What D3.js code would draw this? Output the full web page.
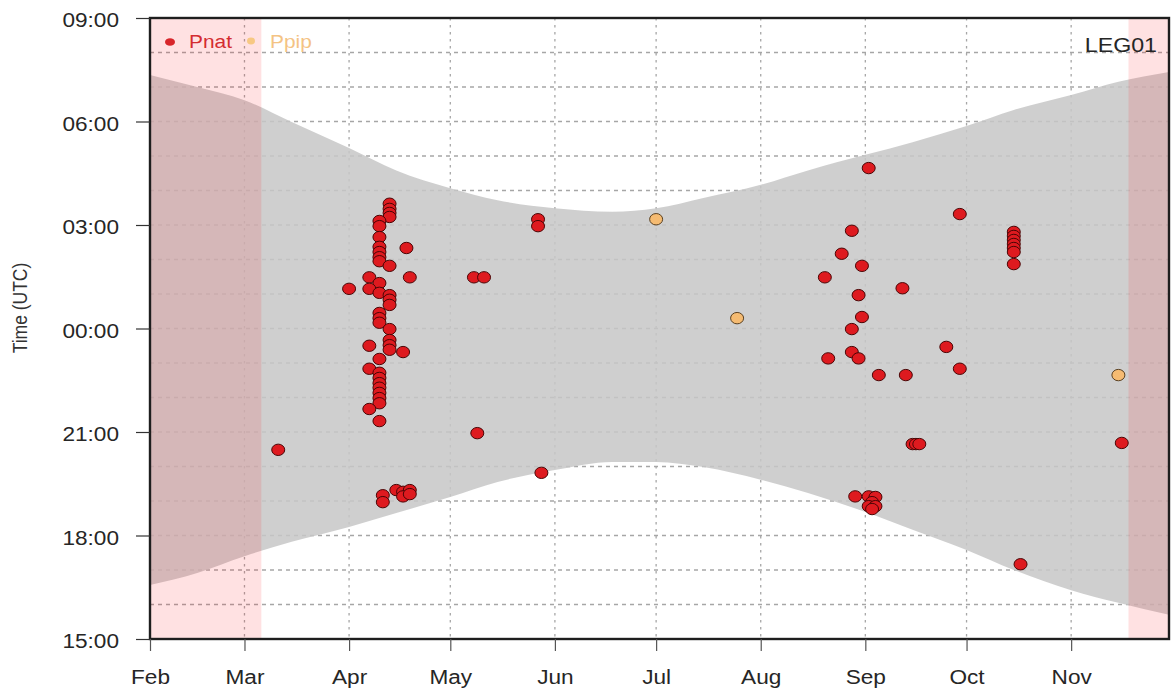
<!DOCTYPE html>
<html>
<head>
<meta charset="utf-8">
<script src="https://cdn.jsdelivr.net/npm/d3@7"></script>
<style>
  html, body { margin: 0; padding: 0; background: #fff; }
  svg { display: block; font-family: "Liberation Sans", Arial, Helvetica, sans-serif; }
</style>
</head>
<body>
<svg id="chart" width="1171" height="693"></svg>
<script>
// ---- data -------------------------------------------------------------
const YEAR = 2019;

const monthTicks  = ["02-01","03-01","04-01","05-01","06-01","07-01","08-01","09-01","10-01","11-01"];
const monthLabels = ["Feb","Mar","Apr","May","Jun","Jul","Aug","Sep","Oct","Nov"];
const hourTicks      = ["15:00","18:00","21:00","00:00","03:00","06:00","09:00"];
const hourTickLabels = ["15:00","18:00","21:00","00:00","03:00","06:00","09:00"];

// night band (dusk -> dawn, UTC)
const bandDates = ["02-01","02-15","03-01","03-15","04-01","04-15","05-01","05-15","06-01","06-18",
                   "07-01","07-15","08-01","08-15","09-01","09-15","10-01","10-15","11-01","11-15","11-30"];
const dawnTimes = ["07:21","07:00","06:37","05:59","05:14","04:35","04:04","03:43","03:29","03:23",
                   "03:29","03:47","04:10","04:35","05:02","05:24","05:52","06:20","06:46","07:09","07:26"];
const duskTimes = ["16:34","16:55","17:24","17:49","18:15","18:39","19:07","19:33","19:54","20:08",
                   "20:08","19:59","19:37","19:14","18:41","18:10","17:35","17:00","16:25","16:03","15:42"];

// periods without recording
const offStart = ["02-01","11-18"];
const offEnd   = ["03-06","11-30"];

// Pnat passes
const pnatDates = [
  "03-11","04-01","04-13","04-13","04-13","04-13","04-10","04-10","04-10","04-10",
  "04-10","04-10","04-10","04-13","04-18","04-19","04-07","04-10","04-07","04-10",
  "04-13","04-13","04-13","04-10","04-10","04-10","04-13","04-13","04-13","04-13",
  "04-07","04-17","04-10","04-07","04-10","04-10","04-10","04-10","04-10","04-10",
  "04-10","04-07","04-10","04-11","04-11","04-15","04-17","04-19","04-17","04-19",
  "05-08","05-11","05-09","05-27","05-27","05-28",
  "08-20","08-21","08-25","08-28","08-28","08-28","08-30","08-30","08-31","08-31",
  "09-02","08-29","09-02","09-04","09-03","09-02","09-04","09-03","09-05","09-12",
  "09-13","09-15","09-16","09-17","09-25","09-29","09-29",
  "10-15","10-15","10-15","10-15","10-15","10-15","10-15","10-17","11-16"
];
const pnatTimes = [
  "20:29","01:09","03:37","03:28","03:21","03:14","03:07","02:58","02:39","02:22",
  "02:13","02:04","01:57","01:49","02:20","01:29","01:29","01:19","01:09","01:02",
  "00:58","00:50","00:41","00:27","00:18","00:10","23:59","23:40","23:31","23:23",
  "23:30","23:19","23:07","22:50","22:43","22:34","22:25","22:17","22:08","21:59",
  "21:50","21:40","21:19","19:10","18:58","19:19","19:16","19:19","19:08","19:12",
  "01:29","01:29","20:58","03:10","02:58","19:49",
  "01:29","23:08","02:10","02:50","23:59","23:19","00:58","23:08","01:49","00:20",
  "04:39","19:08","19:08","19:07","18:58","18:51","18:51","18:46","22:39","01:10",
  "22:39","20:39","20:39","20:39","23:28","03:19","22:50",
  "02:48","02:41","02:34","02:27","02:20","02:13","01:52","17:10","20:41"
];

// Ppip passes
const ppipDates = ["07-01","07-25","11-15"];
const ppipTimes = ["03:10","00:18","22:39"];

const seriesNames = ["Pnat","Ppip"];
const siteLabel = "LEG01";

// ---- helpers ----------------------------------------------------------
const parseDay = s => { const [m, d] = s.split("-").map(Number); return new Date(YEAR, m - 1, d); };
// hours after 15:00 (UTC), wrapping through midnight
const parseHour = s => { const [h, m] = s.split(":").map(Number); return ((h + m / 60) - 15 + 24) % 24; };

const pL = 150, pR = 1169, pT = 18, pB = 639;
const SX = 1.16; // horizontal text stretch

const svg = d3.select("#chart");

const x = d3.scaleTime()
  .domain([new Date(YEAR, 1, 1), new Date(YEAR, 10, 30)])
  .range([pL, pR]);
const y = d3.scaleLinear().domain([0, 18]).range([pB, pT]);

svg.append("defs").append("clipPath").attr("id", "plotclip")
  .append("rect").attr("x", pL).attr("y", pT)
  .attr("width", pR - pL).attr("height", pB - pT);

const plot = svg.append("g").attr("clip-path", "url(#plotclip)");

// ---- grid -------------------------------------------------------------
const grid = plot.append("g").attr("stroke", "#a6a6a6").attr("stroke-width", 1.3).attr("fill", "none");
grid.selectAll("line.h").data(d3.range(1, 18)).join("line").attr("class", "h")
  .attr("x1", pL).attr("x2", pR)
  .attr("y1", d => y(d)).attr("y2", d => y(d))
  .attr("stroke-dasharray", "4,4");
grid.selectAll("line.v").data(monthTicks.slice(1).map(parseDay)).join("line").attr("class", "v")
  .attr("x1", d => x(d)).attr("x2", d => x(d))
  .attr("y1", pT).attr("y2", pB)
  .attr("stroke-dasharray", "2.5,4.5");

// ---- night band -------------------------------------------------------
const band = bandDates.map((d, i) => ({
  date: parseDay(d), dawn: parseHour(dawnTimes[i]), dusk: parseHour(duskTimes[i])
}));
const area = d3.area()
  .x(d => x(d.date))
  .y0(d => y(d.dusk))
  .y1(d => y(d.dawn))
  .curve(d3.curveMonotoneX);
plot.append("path").datum(band)
  .attr("d", area)
  .attr("fill", "rgb(199,199,199)")
  .attr("fill-opacity", 0.86);

// ---- off periods ------------------------------------------------------
plot.selectAll("rect.off").data(offStart.map((s, i) => [parseDay(s), parseDay(offEnd[i])])).join("rect")
  .attr("class", "off")
  .attr("x", d => x(d[0])).attr("width", d => x(d[1]) - x(d[0]) + (d[1] >= x.domain()[1] ? 2 : 0))
  .attr("y", pT).attr("height", pB - pT)
  .attr("fill", "rgb(255,20,30)").attr("fill-opacity", 0.13);

// ---- points -----------------------------------------------------------
const pnat = pnatDates.map((d, i) => ({ date: parseDay(d), hour: parseHour(pnatTimes[i]) }));
const ppip = ppipDates.map((d, i) => ({ date: parseDay(d), hour: parseHour(ppipTimes[i]) }));

plot.append("g").selectAll("ellipse").data(pnat).join("ellipse")
  .attr("cx", d => x(d.date)).attr("cy", d => y(d.hour))
  .attr("rx", 6.5).attr("ry", 5.7)
  .attr("fill", "#de1a1f").attr("stroke", "#4a0505").attr("stroke-width", 1);

plot.append("g").selectAll("ellipse").data(ppip).join("ellipse")
  .attr("cx", d => x(d.date)).attr("cy", d => y(d.hour))
  .attr("rx", 6.5).attr("ry", 5.7)
  .attr("fill", "#f5bb72").attr("stroke", "#5a4020").attr("stroke-width", 1);

// ---- frame ------------------------------------------------------------
svg.append("rect").attr("x", pL).attr("y", pT)
  .attr("width", pR - pL).attr("height", pB - pT)
  .attr("fill", "none").attr("stroke", "#1e1e1e").attr("stroke-width", 2.4);

// ---- axes -------------------------------------------------------------
const yAxis = d3.axisLeft(y)
  .tickValues(hourTicks.map((t, i) => i === hourTicks.length - 1 ? 18 : parseHour(t)))
  .tickFormat((d, i) => hourTickLabels[i])
  .tickSize(14);
const gy = svg.append("g").attr("transform", `translate(${pL},0)`).call(yAxis);
gy.select(".domain").remove();
gy.selectAll(".tick line").attr("stroke", "#333").attr("stroke-width", 1.2);
gy.selectAll(".tick text")
  .attr("x", null).attr("dy", null)
  .attr("text-anchor", "end")
  .attr("font-size", 19.5).attr("fill", "#262626")
  .attr("font-family", "Liberation Sans, Arial, sans-serif")
  .attr("transform", `translate(-31,8.5) scale(${SX},1)`);

const xAxis = d3.axisBottom(x)
  .tickValues(monthTicks.map(parseDay))
  .tickFormat((d, i) => monthLabels[i])
  .tickSize(12);
const gx = svg.append("g").attr("transform", `translate(0,${pB})`).call(xAxis);
gx.select(".domain").remove();
gx.selectAll(".tick line").attr("stroke", "#555").attr("stroke-width", 1.2);
gx.selectAll(".tick text")
  .attr("y", null).attr("dy", null)
  .attr("font-size", 19.5).attr("fill", "#262626")
  .attr("font-family", "Liberation Sans, Arial, sans-serif")
  .attr("transform", `translate(0,45) scale(${SX},1)`);

// axis title
svg.append("text")
  .attr("transform", `translate(27,308) rotate(-90) scale(1,${SX})`)
  .attr("text-anchor", "middle")
  .attr("font-size", 17.5).attr("fill", "#333")
  .text("Time (UTC)");

// ---- legend -----------------------------------------------------------
const legend = svg.append("g");
legend.append("ellipse").attr("cx", 170).attr("cy", 42).attr("rx", 5).attr("ry", 3.8).attr("fill", "#d8262b");
legend.append("text").attr("transform", `translate(189,48) scale(${SX},1)`)
  .attr("font-size", 18).attr("fill", "#d42c30").text(seriesNames[0]);
legend.append("ellipse").attr("cx", 251).attr("cy", 41).attr("rx", 4).attr("ry", 3.4).attr("fill", "#f7c883");
legend.append("text").attr("transform", `translate(270,48) scale(${SX},1)`)
  .attr("font-size", 18).attr("fill", "#f4c384").text(seriesNames[1]);

svg.append("text").attr("transform", `translate(1157,52) scale(${SX},1)`)
  .attr("text-anchor", "end")
  .attr("font-size", 20).attr("fill", "#262626")
  .text(siteLabel);
</script>
</body>
</html>
